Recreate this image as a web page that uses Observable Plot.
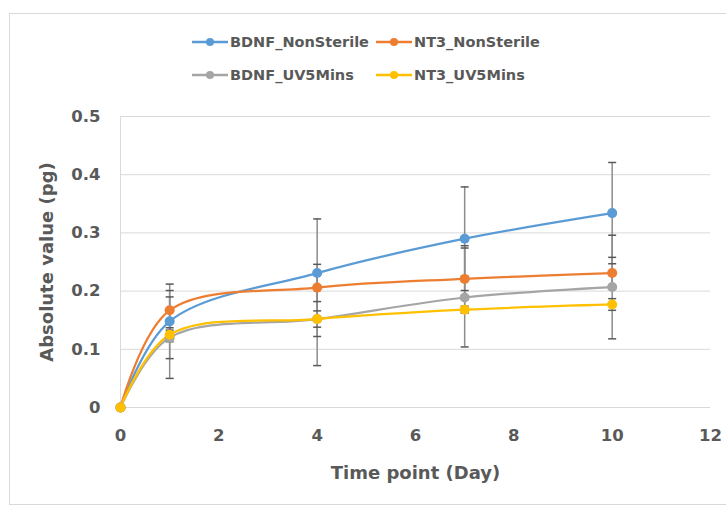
<!DOCTYPE html>
<html>
<head>
<meta charset="utf-8">
<script src="https://cdn.jsdelivr.net/npm/d3@7"></script>
<script src="https://cdn.jsdelivr.net/npm/@observablehq/plot@0.6"></script>
<style>
  html, body { margin: 0; padding: 0; background: #fff; }
  #wrap { position: relative; width: 726px; height: 510px; overflow: hidden; font-family: "DejaVu Sans", sans-serif; }
  #frame { position: absolute; left: 9px; top: 13px; width: 760px; height: 492px; border: 1px solid #d9d9d9; box-sizing: border-box; }
  #legend { position: relative; height: 100px; }
  .item { position: absolute; display: flex; align-items: center; font-weight: 700; font-size: 14.5px; color: #595959; white-space: nowrap; }
  .item svg { margin-right: 2px; }
  #chart { position: relative; }
</style>
</head>
<body>
<div id="wrap">
  <div id="frame"></div>
  <div id="legend"></div>
  <div id="chart"></div>
</div>
<script>
const days = [0, 1, 4, 7, 10];
const seriesNames = ["BDNF_NonSterile", "NT3_NonSterile", "BDNF_UV5Mins", "NT3_UV5Mins"];
const seriesColors = ["#5B9BD5", "#ED7D31", "#A5A5A5", "#FFC000"];
const bdnfNonSterile = [0, 0.148, 0.231, 0.290, 0.334];
const bdnfNonSterileErr = [0, 0.064, 0.093, 0.089, 0.087];
const nt3NonSterile = [0, 0.167, 0.206, 0.221, 0.231];
const nt3NonSterileErr = [0, 0.034, 0.040, 0.057, 0.027];
const bdnfUV5 = [0, 0.120, 0.152, 0.189, 0.207];
const bdnfUV5Err = [0, 0.070, 0.080, 0.085, 0.089];
const nt3UV5 = [0, 0.125, 0.152, 0.168, 0.177];
const nt3UV5Err = [0, 0.012, 0.030, 0.006, 0.010];
const xTicks = [0, 2, 4, 6, 8, 10, 12];
const yTicks = [0, 0.1, 0.2, 0.3, 0.4, 0.5];

const values = [bdnfNonSterile, nt3NonSterile, bdnfUV5, nt3UV5];
const errors = [bdnfNonSterileErr, nt3NonSterileErr, bdnfUV5Err, nt3UV5Err];
const data = [];
seriesNames.forEach((s, i) => days.forEach((d, j) => data.push({
  series: s, day: d, value: values[i][j], lo: values[i][j] - errors[i][j], hi: values[i][j] + errors[i][j]
})));
const errData = data.filter(d => d.hi > d.lo);

// legend
const legend = document.getElementById("legend");
const legendPos = [[192, 42], [376, 42], [192, 75], [376, 75]];
seriesNames.forEach((s, i) => {
  const el = document.createElement("div");
  el.className = "item";
  el.style.left = legendPos[i][0] + "px";
  el.style.top = (legendPos[i][1] - 10) + "px";
  el.style.height = "20px";
  el.innerHTML = `<svg width="36" height="12"><line x1="0" x2="36" y1="6" y2="6" stroke="${seriesColors[i]}" stroke-width="2.5"/><circle cx="18" cy="6" r="4" fill="${seriesColors[i]}"/></svg>${s}`;
  legend.appendChild(el);
});

const hLine = { draw(ctx, size) { const r = Math.sqrt(size / Math.PI); ctx.moveTo(-r, 0); ctx.lineTo(r, 0); } };

const chart = Plot.plot({
  width: 726,
  height: 410,
  marginTop: 16,
  marginBottom: 103,
  marginLeft: 120,
  marginRight: 16,
  style: { fontFamily: "'DejaVu Sans', sans-serif", color: "#595959", background: "transparent", overflow: "visible" },
  x: { domain: [0, 12] },
  y: { domain: [0, 0.5] },
  color: { domain: seriesNames, range: seriesColors },
  marks: [
    Plot.gridY(yTicks, { stroke: "#d9d9d9", strokeOpacity: 1, strokeWidth: 1 }),
    Plot.ruleX([0], { stroke: "#d9d9d9", strokeWidth: 1 }),
    Plot.axisY(yTicks, { tickSize: 0, tickPadding: 20, tickFormat: d => String(+d.toFixed(1)), fontSize: 16.5, fontWeight: 700, fill: "#595959", label: null }),
    Plot.axisX(xTicks, { tickSize: 0, tickPadding: 22, fontSize: 16.5, fontWeight: 700, fill: "#595959", label: null }),
    Plot.text(["Time point (Day)"], { frameAnchor: "bottom", lineAnchor: "middle", dy: 66, fontSize: 18, fontWeight: 700, fill: "#595959" }),
    Plot.text(["Absolute value (pg)"], { frameAnchor: "left", textAnchor: "middle", lineAnchor: "middle", dx: -73, rotate: -90, fontSize: 18, fontWeight: 700, fill: "#595959" }),
    Plot.ruleX(errData, { x: "day", y1: "lo", y2: "hi", stroke: "#8c8c8c", strokeWidth: 1.5 }),
    Plot.dot(errData, { x: "day", y: "lo", symbol: hLine, r: 4, stroke: "#595959", strokeWidth: 1.5 }),
    Plot.dot(errData, { x: "day", y: "hi", symbol: hLine, r: 4, stroke: "#595959", strokeWidth: 1.5 }),
    Plot.line(data, { x: "day", y: "value", z: "series", stroke: "series", curve: "catmull-rom", strokeWidth: 2.25 }),
    Plot.dot(data, { x: "day", y: "value", fill: "series", r: 5 })
  ]
});
document.getElementById("chart").appendChild(chart);
</script>
</body>
</html>
